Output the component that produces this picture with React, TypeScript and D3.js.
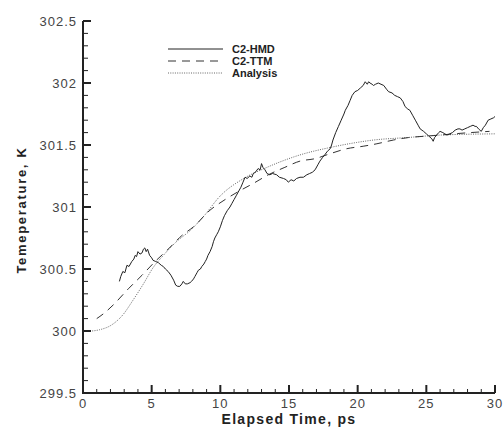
import React from "react";
import * as d3 from "d3";

const hmdTime = [2.65,2.75,2.9,3.05,3.2,3.35,3.55,3.7,3.8,3.9,4.0,4.15,4.3,4.4,4.5,4.6,4.7,4.85,5.0,5.1,5.3,5.5,5.7,5.85,6.0,6.2,6.4,6.6,6.75,6.9,7.05,7.2,7.3,7.45,7.6,7.8,7.9,8.05,8.15,8.3,8.4,8.55,8.65,8.8,8.9,9.0,9.1,9.25,9.4,9.5,9.6,9.75,9.85,10.0,10.15,10.3,10.5,10.7,10.85,11.0,11.15,11.3,11.5,11.65,11.8,11.95,12.15,12.3,12.4,12.55,12.75,12.9,13.0,13.1,13.25,13.4,13.6,13.8,14.1,14.3,14.6,14.8,14.95,15.15,15.35,15.55,15.8,16.05,16.3,16.5,16.7,16.9,17.1,17.25,17.45,17.6,17.8,18.0,18.1,18.2,18.4,18.6,18.8,19.0,19.1,19.3,19.45,19.6,19.8,20.0,20.2,20.4,20.55,20.7,20.8,20.9,21.05,21.15,21.3,21.5,21.7,21.9,22.1,22.25,22.5,22.7,22.9,23.1,23.3,23.45,23.65,23.8,24.0,24.2,24.4,24.55,24.8,25.0,25.2,25.4,25.5,25.6,25.75,25.9,26.0,26.2,26.35,26.5,26.7,26.9,27.1,27.3,27.45,27.6,27.8,28.0,28.2,28.4,28.55,28.65,28.8,29.0,29.15,29.3,29.5,29.7,29.9,30.0];
const hmdTemp = [300.40,300.44,300.48,300.47,300.53,300.52,300.56,300.58,300.61,300.60,300.64,300.62,300.63,300.66,300.67,300.64,300.66,300.61,300.59,300.57,300.56,300.55,300.53,300.52,300.50,300.48,300.45,300.41,300.37,300.36,300.36,300.38,300.40,300.38,300.38,300.39,300.40,300.42,300.44,300.47,300.49,300.50,300.52,300.54,300.56,300.58,300.61,300.64,300.68,300.72,300.75,300.78,300.80,300.84,300.89,300.93,300.97,301.00,301.03,301.06,301.09,301.12,301.16,301.20,301.24,301.23,301.25,301.24,301.27,301.28,301.31,301.30,301.35,301.32,301.30,301.27,301.26,301.27,301.26,301.24,301.23,301.22,301.20,301.22,301.21,301.23,301.24,301.24,301.26,301.27,301.28,301.30,301.34,301.37,301.40,301.42,301.45,301.47,301.50,301.54,301.60,301.65,301.70,301.75,301.78,301.82,301.86,301.90,301.93,301.94,301.96,301.98,302.01,301.99,302.01,302.00,301.99,301.98,301.99,302.00,301.99,301.98,301.95,301.93,301.92,301.90,301.89,301.88,301.85,301.81,301.79,301.78,301.74,301.70,301.66,301.63,301.61,301.59,301.57,301.55,301.53,301.56,301.58,301.60,301.61,301.60,301.59,301.58,301.59,301.60,301.62,301.63,301.63,301.62,301.63,301.64,301.65,301.66,301.65,301.65,301.63,301.61,301.64,301.66,301.70,301.71,301.72,301.73];

const ttmTime = [1.0,1.5,2.2,3.3,4.3,5.25,6.2,7.2,8.15,9.1,10.35,11.4,12.4,13.5,14.7,15.8,16.9,18.0,19.2,20.4,21.4,22.6,23.7,24.8,26.0,27.0,28.2,29.6];
const ttmTemp = [300.10,300.14,300.21,300.34,300.45,300.56,300.66,300.77,300.85,300.96,301.06,301.13,301.19,301.26,301.32,301.37,301.39,301.43,301.47,301.49,301.51,301.54,301.56,301.57,301.58,301.59,301.60,301.61];

const anaTime = [0,0.5,1.2,2.1,2.9,3.65,4.4,5.1,5.85,6.8,7.8,8.75,10.0,11.7,13.4,15.8,18.0,19.9,21.15,23.6,26.0,30.0];
const anaTemp = [300.0,300.0,300.01,300.05,300.13,300.25,300.38,300.51,300.61,300.72,300.81,300.92,301.09,301.23,301.32,301.42,301.48,301.52,301.54,301.56,301.58,301.59];

const xMajor = [0,5,10,15,20,25,30];
const yMajor = [299.5,300,300.5,301,301.5,302,302.5];
const yTickLabels = ["299.5","300","300.5","301","301.5","302","302.5"];

const legendLabels = ["C2-HMD","C2-TTM","Analysis"];

export default function App() {
  const W = 503, H = 430;
  const x = d3.scaleLinear().domain([0, 30]).range([83, 495]);
  const y = d3.scaleLinear().domain([299.5, 302.5]).range([393, 21]);

  const mk = (ts: number[], vs: number[]) => ts.map((t, i) => [t, vs[i]] as [number, number]);
  const lineRaw = d3.line<[number, number]>().x(d => x(d[0])).y(d => y(d[1]));
  const lineSmooth = d3.line<[number, number]>().x(d => x(d[0])).y(d => y(d[1])).curve(d3.curveMonotoneX);

  const xMinor = d3.range(0, 30.001, 1).filter(v => v % 5 !== 0);
  const yMinor = d3.range(0, 31).map(i => 299.5 + i * 0.1).filter((v, i) => i % 5 !== 0);

  const tickFont = "'Liberation Sans', Arial, sans-serif";
  const axisColor = "#222";

  const legendY = [49, 61, 73];
  const styles = [
    { dash: "none", color: "#222", w: 1 },
    { dash: "8,6", color: "#333", w: 1 },
    { dash: "1,1.3", color: "#666", w: 1 },
  ];

  return (
    <svg width={W} height={H} style={{ position: "absolute", left: 0, top: 0, background: "#fff" }}>
      <rect x={0} y={0} width={W} height={H} fill="#fff" />
      <path d={lineSmooth(mk(anaTime, anaTemp)) || ""} fill="none" stroke={styles[2].color} strokeWidth={1} strokeDasharray={styles[2].dash} />
      <path d={lineSmooth(mk(ttmTime, ttmTemp)) || ""} fill="none" stroke={styles[1].color} strokeWidth={1} strokeDasharray={styles[1].dash} />
      <path d={lineRaw(mk(hmdTime, hmdTemp)) || ""} fill="none" stroke={styles[0].color} strokeWidth={1} />

      <line x1={83} y1={y(302.5)} x2={83} y2={393} stroke={axisColor} strokeWidth={2} />
      <line x1={82} y1={393} x2={x(30)} y2={393} stroke={axisColor} strokeWidth={2} />
      {xMajor.map(v => (
        <line key={"xm" + v} x1={x(v)} x2={x(v)} y1={393} y2={385} stroke={axisColor} strokeWidth={2} />
      ))}
      {xMinor.map(v => (
        <line key={"xn" + v} x1={x(v)} x2={x(v)} y1={393} y2={389} stroke={axisColor} strokeWidth={1} />
      ))}
      {yMajor.map(v => (
        <line key={"ym" + v} x1={83} x2={91} y1={y(v)} y2={y(v)} stroke={axisColor} strokeWidth={2} />
      ))}
      {yMinor.map((v, i) => (
        <line key={"yn" + i} x1={83} x2={88} y1={y(v)} y2={y(v)} stroke={axisColor} strokeWidth={1} />
      ))}
      {xMajor.map(v => (
        <text key={"xl" + v} x={x(v)} y={408} textAnchor="middle" fontFamily={tickFont} fontSize={13} fill="#444" letterSpacing={1}>{v}</text>
      ))}
      {yMajor.map((v, i) => (
        <text key={"yl" + v} x={77} y={y(v) + 5} textAnchor="end" fontFamily={tickFont} fontSize={13} fill="#444" letterSpacing={1}>{yTickLabels[i]}</text>
      ))}
      <text x={289} y={424} textAnchor="middle" fontFamily={tickFont} fontSize={14} fontWeight="bold" fill="#222" letterSpacing={1.3}>Elapsed Time, ps</text>
      <text transform={`translate(26,${210}) rotate(-90)`} textAnchor="middle" fontFamily={tickFont} fontSize={13} fontWeight="bold" fill="#222" letterSpacing={1.7}>Temeperature, K</text>

      {legendLabels.map((lab, i) => (
        <g key={lab}>
          <line x1={168} x2={223} y1={legendY[i]} y2={legendY[i]} stroke={styles[i].color} strokeWidth={1} strokeDasharray={styles[i].dash} />
          <text x={232} y={legendY[i] + 4} fontFamily={tickFont} fontSize={11} fontWeight="bold" fill="#222">{lab}</text>
        </g>
      ))}
    </svg>
  );
}
